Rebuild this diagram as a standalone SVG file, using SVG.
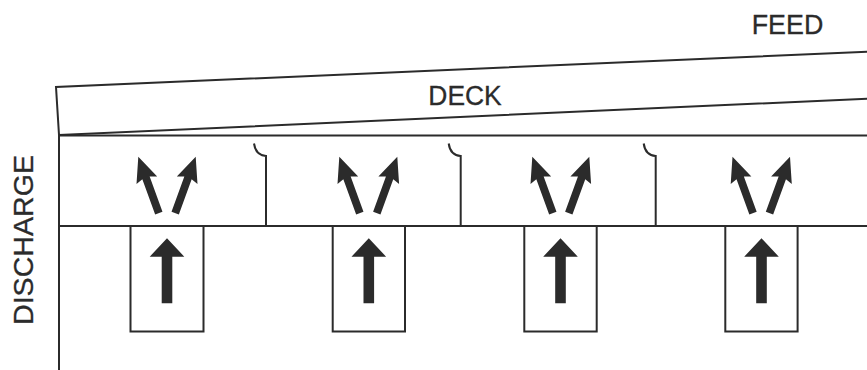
<svg xmlns="http://www.w3.org/2000/svg" width="867" height="370" viewBox="0 0 867 370">
  <style>
    .ln { fill: none; stroke: #2b2b2b; stroke-width: 2; }
    .ar { fill: #2b2b2b; stroke: none; }
    .lbl { font-family: "Liberation Sans", Arial, sans-serif; font-size: 27px; fill: #2b2b2b; stroke: #2b2b2b; stroke-width: 0.3; }
  </style>
  <defs>
    <polygon id="diag" points="0,0 11,25 3.9,22.5 3.9,60 -3.9,60 -3.9,22.5 -11,25"/>
    <polygon id="up" points="0,0 17.3,18.4 5.3,18.4 5.3,65 -5.3,65 -5.3,18.4 -17.3,18.4"/>
  </defs>
  <rect width="867" height="370" fill="#ffffff"/>

  <g id="frame">
    <polyline class="ln" points="868,51.7 56,87 59,135 868,98.7"/>
    <line class="ln" x1="59" y1="135.5" x2="867" y2="135.5"/>
    <line class="ln" x1="59" y1="226" x2="867" y2="226"/>
    <line class="ln" x1="59" y1="135" x2="59" y2="370"/>
  </g>

  <g id="labels">
    <text class="lbl" x="751.7" y="34.3" textLength="71.6" lengthAdjust="spacingAndGlyphs">FEED</text>
    <text class="lbl" x="428.3" y="104.5" textLength="73.4" lengthAdjust="spacingAndGlyphs">DECK</text>
    <text class="lbl" transform="translate(33.3,325) rotate(-90)" x="0" y="0" textLength="170" lengthAdjust="spacingAndGlyphs">DISCHARGE</text>
  </g>

  <g id="dividers">
    <path class="ln" d="M254,143.5 C255,151 259,155.5 266,156 L266,226"/>
    <path class="ln" d="M448.7,143.5 C449.7,151 453.7,155.5 460.7,156 L460.7,226"/>
    <path class="ln" d="M643.7,143.5 C644.7,151 648.7,155.5 655.7,156 L655.7,226"/>
  </g>

  <g id="node-1">
    <rect class="ln" x="130.5" y="226" width="73" height="105.5"/>
    <use href="#up" class="ar" transform="translate(167,238.3)"/>
    <use href="#diag" class="ar" transform="translate(138.3,156.7) rotate(-20)"/>
    <use href="#diag" class="ar" transform="translate(195.7,156.7) rotate(20)"/>
  </g>
  <g id="node-2">
    <rect class="ln" x="332.7" y="226" width="72.3" height="105.5"/>
    <use href="#up" class="ar" transform="translate(368.8,238.3)"/>
    <use href="#diag" class="ar" transform="translate(339.3,156.7) rotate(-20)"/>
    <use href="#diag" class="ar" transform="translate(397.3,156.7) rotate(20)"/>
  </g>
  <g id="node-3">
    <rect class="ln" x="524.3" y="226" width="72.4" height="105.5"/>
    <use href="#up" class="ar" transform="translate(560.5,238.3)"/>
    <use href="#diag" class="ar" transform="translate(532.3,156.7) rotate(-20)"/>
    <use href="#diag" class="ar" transform="translate(589.3,156.7) rotate(20)"/>
  </g>
  <g id="node-4">
    <rect class="ln" x="725.3" y="226" width="72.3" height="105.5"/>
    <use href="#up" class="ar" transform="translate(761.5,238.3)"/>
    <use href="#diag" class="ar" transform="translate(732.5,156.7) rotate(-20)"/>
    <use href="#diag" class="ar" transform="translate(790,156.7) rotate(20)"/>
  </g>
</svg>
